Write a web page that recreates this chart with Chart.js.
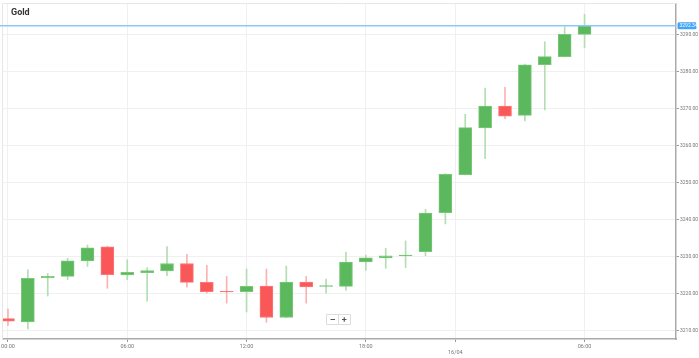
<!DOCTYPE html>
<html>
<head>
<meta charset="utf-8">
<script src="https://cdn.jsdelivr.net/npm/chart.js@4.4.0/dist/chart.umd.min.js"></script>
<style>
html,body{margin:0;padding:0;background:#fff;}
#wrap{position:relative;width:699px;height:358px;}
canvas{display:block;}
</style>
</head>
<body>
<div id="wrap"><canvas id="c" width="699" height="358"></canvas></div>
<script>
const title = 'Gold';
const opens  = [3213.2,3212.3,3224.2,3224.6,3228.8,3232.6,3225.0,3225.6,3226.1,3228.1,3223.0,3220.6,3220.5,3222.0,3213.5,3223.1,3221.9,3221.9,3228.5,3229.6,3230.2,3231.3,3241.8,3252.1,3264.7,3270.6,3268.1,3281.8,3284.0,3290.0];
const highs  = [3215.8,3226.4,3225.4,3229.5,3233.1,3232.8,3229.1,3227.0,3232.7,3230.6,3227.6,3224.6,3226.6,3226.6,3227.4,3224.6,3223.9,3231.2,3230.4,3232.2,3234.2,3242.7,3252.4,3268.4,3275.5,3275.7,3282.0,3288.0,3292.1,3295.4];
const lows   = [3211.4,3210.4,3219.3,3223.7,3227.3,3221.4,3223.7,3217.9,3224.8,3221.7,3220.1,3217.4,3215.0,3212.2,3213.4,3217.4,3220.1,3220.8,3226.2,3226.8,3227.0,3230.2,3238.8,3252.0,3256.4,3267.2,3266.6,3269.6,3283.9,3286.4];
const closes = [3212.5,3224.1,3224.6,3228.8,3232.3,3225.1,3225.7,3226.2,3228.1,3223.0,3220.5,3220.4,3221.9,3213.5,3223.1,3221.8,3222.1,3228.5,3229.6,3230.2,3230.4,3241.7,3252.2,3264.8,3270.6,3267.9,3281.8,3284.0,3290.0,3292.34];
const lastPrice = 3292.34;
const xTickPos = [0, 6, 12, 18, 22.5, 29];
const xTickLabels = ['00:00', '06:00', '12:00', '18:00', '16/04', '06:00'];
const yTickValues = [3210, 3220, 3230, 3240, 3250, 3260, 3270, 3280, 3290];

const UP = 'rgb(92,184,92)', UP_B = 'rgb(120,200,120)', UP_W = 'rgb(178,222,178)';
const DN = 'rgb(250,88,88)', DN_B = 'rgb(252,120,120)', DN_W = 'rgb(250,178,178)';
const isUp = opens.map((o, i) => closes[i] >= o);

const bodyData = opens.map((o, i) => ({x: i, y: [o, closes[i]]}));
const wickData = lows.map((l, i) => ({x: i, y: [l, highs[i]]}));

const decor = {
  id: 'decor',
  beforeDatasetsDraw(chart) {
    const {ctx, chartArea: a} = chart;
    ctx.save();
    ctx.strokeStyle = '#e6e6e6';
    ctx.lineWidth = 1;
    ctx.beginPath();
    ctx.moveTo(a.left - 0.5, a.bottom);
    ctx.lineTo(a.left - 0.5, a.top - 0.5);
    ctx.lineTo(a.right, a.top - 0.5);
    ctx.stroke();
    ctx.restore();
  },
  afterDraw(chart) {
    const {ctx, chartArea: a, scales} = chart;
    const y = scales.y.getPixelForValue(lastPrice);
    ctx.save();
    ctx.strokeStyle = 'rgb(140,200,250)';
    ctx.lineWidth = 1.5;
    ctx.beginPath();
    ctx.moveTo(0, y);
    ctx.lineTo(a.right, y);
    ctx.stroke();
    ctx.fillStyle = 'rgb(66,165,245)';
    ctx.beginPath();
    ctx.roundRect(a.right + 1.5, y - 3.5, 19, 7, 1.5);
    ctx.fill();
    ctx.fillStyle = '#fff';
    ctx.font = '5px Roboto';
    ctx.textBaseline = 'middle';
    ctx.textAlign = 'left';
    ctx.fillText(lastPrice.toFixed(2), a.right + 3.5, y + 0.3);
    // title
    ctx.fillStyle = '#333';
    ctx.font = 'bold 9px Roboto';
    ctx.textBaseline = 'alphabetic';
    ctx.fillText(title, 11, 15);
    // zoom buttons
    const bx = 326.5, by = 314.5, bw = 24, bh = 10;
    ctx.fillStyle = '#fff';
    ctx.strokeStyle = '#ddd';
    ctx.lineWidth = 1;
    ctx.beginPath();
    ctx.rect(bx, by, bw, bh);
    ctx.fill();
    ctx.stroke();
    ctx.beginPath();
    ctx.moveTo(bx + bw / 2, by);
    ctx.lineTo(bx + bw / 2, by + bh);
    ctx.stroke();
    ctx.strokeStyle = '#555';
    ctx.lineWidth = 1.2;
    ctx.beginPath();
    ctx.moveTo(bx + 4, by + bh / 2); ctx.lineTo(bx + 8.5, by + bh / 2);
    ctx.moveTo(bx + 15.5, by + bh / 2); ctx.lineTo(bx + 20, by + bh / 2);
    ctx.moveTo(bx + 17.75, by + 2.8); ctx.lineTo(bx + 17.75, by + 7.2);
    ctx.stroke();
    ctx.restore();
  }
};

new Chart(document.getElementById('c'), {
  type: 'bar',
  data: {
    datasets: [
      {
        label: 'body',
        data: bodyData,
        backgroundColor: isUp.map(u => u ? UP : DN),
        borderColor: isUp.map(u => u ? UP_B : DN_B),
        borderWidth: 1,
        borderSkipped: false,
        barThickness: 13,
        grouped: false,
        order: 1
      },
      {
        label: 'wick',
        data: wickData,
        backgroundColor: isUp.map(u => u ? UP_W : DN_W),
        borderWidth: 0,
        barThickness: 1,
        grouped: false,
        order: 2
      }
    ]
  },
  options: {
    responsive: false,
    animation: false,
    layout: {padding: {left: 3, top: 1, right: 0, bottom: 0}},
    plugins: {legend: {display: false}, tooltip: {enabled: false}},
    scales: {
      x: {
        type: 'linear',
        offset: false,
        min: -0.25,
        max: 33.6,
        afterBuildTicks: s => { s.ticks = xTickPos.map(v => ({value: v})); },
        afterFit: s => { s.height = 19; },
        ticks: {
          autoSkip: false,
          maxRotation: 0,
          padding: 1,
          color: '#777',
          font: {family: 'Roboto', size: 5.5},
          callback: (v, i) => xTickLabels[i] === '16/04' ? ['', xTickLabels[i]] : xTickLabels[i]
        },
        grid: {offset: false, color: '#f0f0f0', tickColor: '#999', tickLength: 3},
        border: {color: '#aaa', width: 1.5}
      },
      y: {
        position: 'right',
        min: 3207.7,
        max: 3298.2,
        afterBuildTicks: s => { s.ticks = yTickValues.map(v => ({value: v})); },
        afterFit: s => { s.width = 23; },
        ticks: {
          padding: 1,
          color: '#777',
          font: {family: 'Roboto', size: 5},
          callback: v => Number(v).toFixed(2)
        },
        grid: {color: '#f0f0f0', tickColor: '#999', tickLength: 3},
        border: {color: '#aaa', width: 1.5}
      }
    }
  },
  plugins: [decor]
});
</script>
</body>
</html>
